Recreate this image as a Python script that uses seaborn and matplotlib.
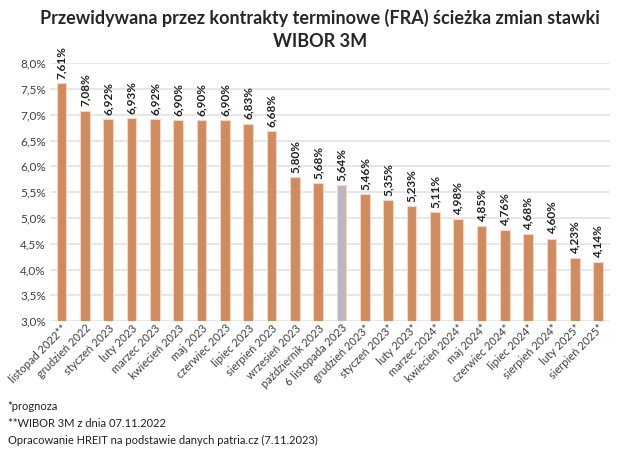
import matplotlib
matplotlib.use("Agg")
import matplotlib.pyplot as plt
import seaborn as sns
import pandas as pd

# Data
months = ['listopad 2022**', 'grudzień 2022', 'styczeń 2023', 'luty 2023', 'marzec 2023',
          'kwiecień 2023', 'maj 2023', 'czerwiec 2023', 'lipiec 2023', 'sierpień 2023',
          'wrzesień 2023', 'październik 2023', '6 listopada 2023', 'grudzień 2023*',
          'styczeń 2023*', 'luty 2023*', 'marzec 2024*', 'kwiecień 2024*', 'maj 2024*',
          'czerwiec 2024*', 'lipiec 2024*', 'sierpień 2024*', 'luty 2025*', 'sierpień 2025*']
wibor = [7.61, 7.08, 6.92, 6.93, 6.92, 6.90, 6.90, 6.90, 6.83, 6.68, 5.80, 5.68, 5.64,
         5.46, 5.35, 5.23, 5.11, 4.98, 4.85, 4.76, 4.68, 4.60, 4.23, 4.14]
highlight = '6 listopada 2023'

df = pd.DataFrame({'miesiac': months, 'wibor': wibor})

sns.set_style('white')
plt.rcParams['font.family'] = ['Lato', 'DejaVu Sans']

orange = '#D08B5E'
grey = '#BDB6C1'
palette = {m: (grey if m == highlight else orange) for m in months}

fig = plt.figure(figsize=(6.4, 4.51), dpi=100)
ax = fig.add_axes([0.078, 0.288, 0.875, 0.572])

sns.barplot(data=df, x='miesiac', y='wibor', hue='miesiac', palette=palette, saturation=1,
            width=0.42, edgecolor='#F3D6C4', linewidth=0.8, legend=False, ax=ax)

ax.set_ylim(3.0, 8.0)
ax.set_xlim(-0.5, len(months) - 0.5)
ticks = [3.0 + 0.5 * i for i in range(11)]
ax.set_yticks(ticks)
ax.set_yticklabels([f'{t:.1f}%'.replace('.', ',') for t in ticks], fontsize=8.5, color='#404040')
ax.yaxis.grid(True, color='#E3E3E3', linewidth=1.2)
ax.set_axisbelow(True)
for s in ax.spines.values():
    s.set_visible(False)
ax.tick_params(axis='y', length=0, pad=3)
ax.tick_params(axis='x', length=0, pad=1)
ax.set_xlabel('')
ax.set_ylabel('')

ax.set_xticks(range(len(months)))
ax.set_xticklabels(months, rotation=45, ha='right', rotation_mode='anchor',
                   fontsize=8, color='#404040')

for i, v in enumerate(wibor):
    ax.text(i, v + 0.08, f'{v:.2f}%'.replace('.', ','), rotation=90, ha='center',
            va='bottom', fontsize=8.5, fontweight='bold', color='#202020')

fig.text(0.5, 0.96, 'Przewidywana przez kontrakty terminowe (FRA) ścieżka zmian stawki',
         ha='center', va='center', fontsize=13, fontweight='bold')
fig.text(0.5, 0.907, 'WIBOR 3M', ha='center', va='center', fontsize=13, fontweight='bold')

fig.text(0.012, 0.098, '*prognoza', fontsize=8, color='#202020', va='center')
fig.text(0.012, 0.061, '**WIBOR 3M z dnia 07.11.2022', fontsize=8, color='#202020', va='center')
fig.text(0.012, 0.024, 'Opracowanie HREIT na podstawie danych patria.cz (7.11.2023)',
         fontsize=8, color='#202020', va='center')

fig.savefig('out.png', dpi=100, facecolor='white')
